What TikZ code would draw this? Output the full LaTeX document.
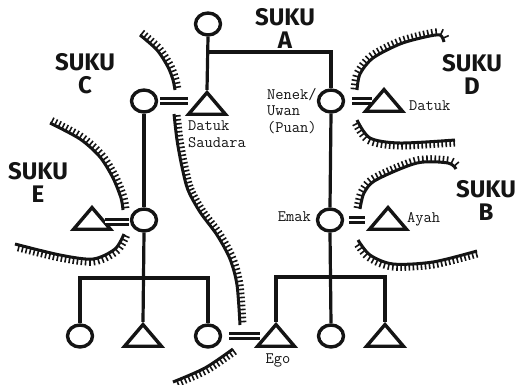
\documentclass[tikz,border=0pt]{standalone}
\usepackage{fontspec}
\usepackage{tikz}
\usetikzlibrary{shapes.geometric,decorations.markings,positioning}
\newfontfamily\sukufont{Fira Sans}
\definecolor{ink}{RGB}{20,20,20}

\begin{document}
\begin{tikzpicture}[
  x=1pt, y=-1pt,
  fem/.style={
    ellipse,
    draw=ink,
    line width=3.4pt,
    minimum width=25pt,
    minimum height=22pt,
    inner sep=0pt
  },
  male/.style={
    regular polygon,
    regular polygon sides=3,
    draw=ink,
    line width=3.4pt,
    minimum size=37pt,
    xscale=1.15,
    yscale=.78,
    inner sep=0pt
  },
  kin/.style={
    draw=ink,
    line width=3.2pt
  },
  wed/.style={
    draw=ink,
    double,
    double distance=2.4pt,
    line width=3pt
  },
  hatch/.style={
    draw=ink,
    line width=3pt,
    postaction={decorate},
    decoration={markings,
      mark=between positions 0.01 and 0.99 step 4pt with
        {\draw[ink,line width=1.6pt] (0,0) -- (0,6.5pt);}}
  },
  suku/.style={
    font=\sukufont\bfseries\fontsize{24}{23}\selectfont,
    align=center,
    inner sep=0pt,
    text=ink
  },
  lbl/.style={
    font=\ttfamily\fontsize{16}{16.5}\selectfont,
    inner sep=0pt,
    text=ink
  }
]
\useasboundingbox (0,0) rectangle (520,384);

% Suku A line
\node[fem] (topA) at (208,24) {};
\node[male] (datukS) at (207,107) {};
\node[fem] (nenek) at (331,101) {};
\node[male] (datukD) at (384,104) {};
\node[fem] (emak) at (330,220) {};
\node[male] (ayah) at (388,222) {};

% Suku C / E line
\node[fem] (wifeC) at (144,101) {};
\node[fem] (motherE) at (144,220) {};
\node[male] (husbandE) at (92,222) {};

% Children
\node[fem] (childE1) at (80,336) {};
\node[male] (childE2) at (143,339) {};
\node[fem] (childE3) at (208,336) {};
\node[male] (ego) at (276,339) {};
\node[fem] (sister) at (331,336) {};
\node[male] (brother) at (385,339) {};

\coordinate (jA) at (208,52);
\coordinate (barE) at (144,278);
\coordinate (barB) at (330,277);

% Descent
\draw[kin] (topA.south) -- (datukS.north);
\draw[kin] (jA) -| (nenek.north);
\draw[kin] (nenek.south) -- (emak.north);
\draw[kin] (emak.south) -- (sister.north);
\draw[kin] (ego.north) |- (barB) -| (brother.north);
\draw[kin] (wifeC.south) -- (motherE.north);
\draw[kin] (motherE.south) -- (childE2.north);
\draw[kin] (childE1.north) |- (barE) -| (childE3.north);

% Marriages
\draw[wed,shorten <=2pt,shorten >=4pt] (wifeC.east) -- (wifeC.east -| datukS.west);
\draw[wed,shorten <=7pt,shorten >=-3pt] (nenek.east) -- (nenek.east -| datukD.west);
\draw[wed,shorten <=5pt,shorten >=8pt] (emak.east) -- (emak.east -| ayah.west);
\draw[wed,shorten <=-2pt,shorten >=1pt] (husbandE.east) -- (husbandE.east -| motherE.west);
\draw[wed,shorten <=7pt,shorten >=1pt] (childE3.east) -- (childE3.east -| ego.west);

% Suku boundaries
\draw[hatch] plot[smooth] coordinates {(140,35) (157,50) (168,67) (173,80) (175,90)};
\draw[hatch] plot[smooth] coordinates {(174,114) (177,140) (182,167) (188,190) (200,212) (217,235) (230,259) (237,285) (240,325)};
\draw[hatch] plot[smooth] coordinates {(50,123) (80,139) (100,157) (113,178) (121,198) (123,210)};
\draw[hatch] plot[smooth] coordinates {(124,234) (115,249) (93,259) (60,255) (15,244)};
\draw[hatch] plot[smooth] coordinates {(233,349) (205,368) (173,382)};
\draw[hatch] plot[smooth] coordinates {(357,90) (360,74) (373,58) (400,44) (425,37) (440,35) (444,42)};
\draw[hatch] plot[smooth] coordinates {(455,140) (400,143) (370,138) (357,120)};
\draw[hatch] plot[smooth] coordinates {(360,209) (364,193) (376,180) (417,163) (448,163) (456,169)};
\draw[hatch] plot[smooth] coordinates {(477,251) (433,262) (393,264) (370,255) (358,240)};

% Suku names
\node[suku] (sukuA) at (285,28) {SUKU\\A};
\node[suku] (sukuC) at (85,74) {SUKU\\C};
\node[suku] (sukuD) at (472,74) {SUKU\\D};
\node[suku] (sukuB) at (486,200) {SUKU\\B};
\node[suku] (sukuE) at (38,182) {SUKU\\E};

% Kin terms
\node[lbl,anchor=north west,align=left] (lDatukS) at (188,121) {Datuk\\Saudara};
\node[lbl,anchor=north west,align=left] (lNenek) at (267,88) {Nenek/\\Uwan\\(Puan)};
\node[lbl,anchor=west] (lDatukD) at (409,106) {Datuk};
\node[lbl,anchor=east] (lEmak) at (311,217) {Emak};
\node[lbl,anchor=base west] (lAyah) at (407,222) {Ayah};
\node[lbl,anchor=base] (lEgo) at (278,363) {Ego};

\end{tikzpicture}
\end{document}
